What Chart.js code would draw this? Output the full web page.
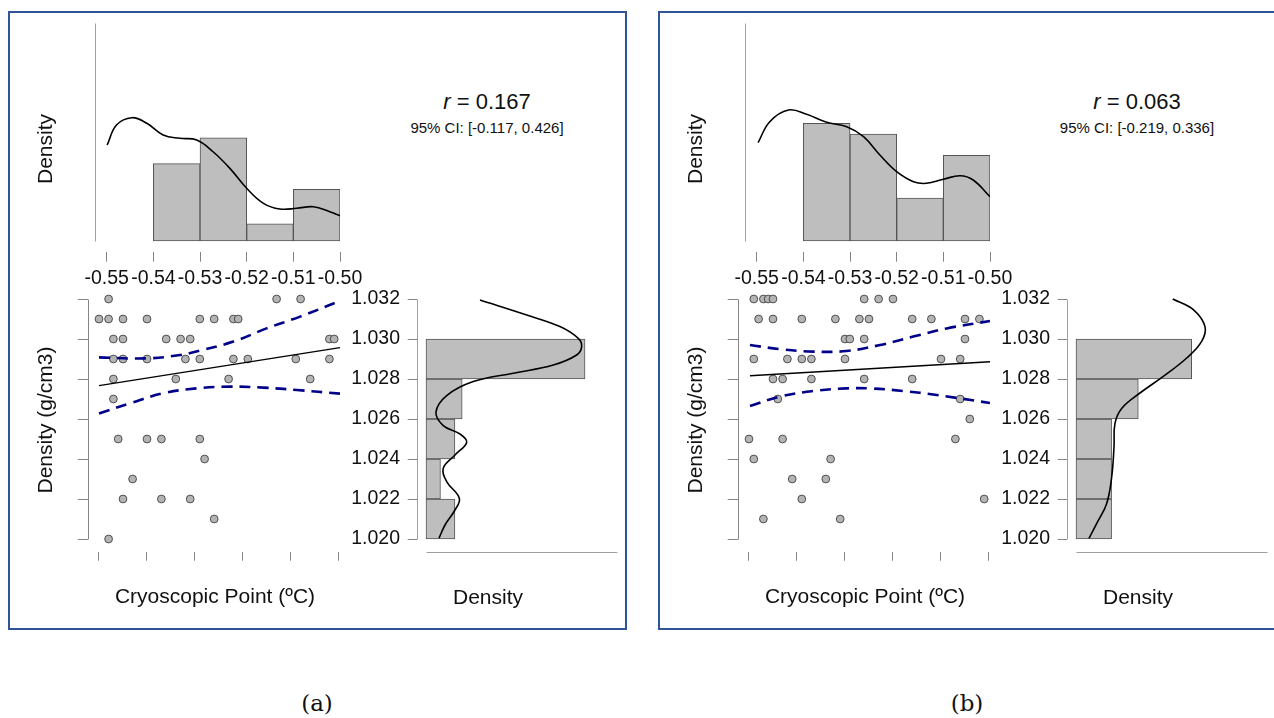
<!DOCTYPE html>
<html lang="en">
<head>
<meta charset="UTF-8">
<title>Cryoscopic point vs density</title>
<script src="https://cdn.jsdelivr.net/npm/chart.js"></script>
<style>
  body { margin: 0; width: 1274px; height: 718px; overflow: hidden; background: #fff;
         font-family: "Liberation Sans", Arial, sans-serif; color: #111; position: relative; }
  canvas { position: absolute; }
  .frame { position: absolute; top: 11px; width: 615px; height: 615px; border: 2px solid #2f5597; }
  .txt { position: absolute; white-space: nowrap; transform: translate(-50%, -50%); font-size: 21px; }
  .rot { transform: translate(-50%, -50%) rotate(-90deg); }
  .rval { font-size: 22px; }
  .ci { font-size: 15px; }
  .cap { font-family: "DejaVu Serif", serif; font-size: 23px; }
</style>
</head>
<body>
<script>
// shared axes
const xTicks = [-0.55, -0.54, -0.53, -0.52, -0.51, -0.50];
const yTicks = [1.020, 1.022, 1.024, 1.026, 1.028, 1.030, 1.032];
const xBins = [-0.545, -0.535, -0.525, -0.515, -0.505];
const yBins = [1.021, 1.023, 1.025, 1.027, 1.029, 1.031];

// ---- panel (a) ----
const cryoA = [
  -0.548, -0.513, -0.508,
  -0.550, -0.548, -0.545, -0.540, -0.529, -0.526, -0.522, -0.521,
  -0.547, -0.545, -0.536, -0.533, -0.531, -0.502, -0.501,
  -0.547, -0.545, -0.540, -0.532, -0.529, -0.522, -0.519, -0.509, -0.502,
  -0.547, -0.534, -0.523, -0.506,
  -0.547,
  -0.546, -0.540, -0.537, -0.529,
  -0.528,
  -0.543,
  -0.545, -0.537, -0.531,
  -0.526,
  -0.548
];
const densA = [
  1.032, 1.032, 1.032,
  1.031, 1.031, 1.031, 1.031, 1.031, 1.031, 1.031, 1.031,
  1.030, 1.030, 1.030, 1.030, 1.030, 1.030, 1.030,
  1.029, 1.029, 1.029, 1.029, 1.029, 1.029, 1.029, 1.029, 1.029,
  1.028, 1.028, 1.028, 1.028,
  1.027,
  1.025, 1.025, 1.025, 1.025,
  1.024,
  1.023,
  1.022, 1.022, 1.022,
  1.021,
  1.020
];
const fitXA = [-0.55, -0.4998];
const fitA = [1.02767, 1.02957];
const ciUpXA = [-0.55, -0.5401, -0.5331, -0.5290, -0.5220, -0.5151, -0.5081, -0.4998];
const ciUpA = [1.02908, 1.02903, 1.02920, 1.02942, 1.02987, 1.03053, 1.03112, 1.03190];
const ciLoXA = [-0.55, -0.5435, -0.5366, -0.5297, -0.5227, -0.5158, -0.5088, -0.4998];
const ciLoA = [1.02628, 1.02679, 1.02729, 1.02753, 1.02762, 1.02757, 1.02745, 1.02727];
const topHistA = [0, 9, 12, 2, 6];
const topCurveXA = [-0.5499, -0.5479, -0.5446, -0.5414, -0.5379, -0.5343, -0.5307, -0.5272,
                    -0.5236, -0.5200, -0.5164, -0.5129, -0.5093, -0.5057, -0.5022, -0.5000];
const topCurveA = [11.16, 13.49, 14.34, 13.69, 12.33, 11.94, 11.74, 10.38,
                   8.45, 6.13, 4.38, 3.72, 3.80, 3.99, 3.41, 2.94];
const sideHistA = [4, 2, 4, 5, 22, 0];
const sideCurveYA = [1.03195, 1.0312, 1.03062, 1.03003, 1.02962, 1.0292, 1.0287, 1.02829, 1.02787,
                     1.02717, 1.02634, 1.02567, 1.02525, 1.02484, 1.0242, 1.02354, 1.02287,
                     1.02204, 1.02145, 1.0207, 1.02004];
const sideCurveA = [7.47, 13.93, 18.53, 21.07, 21.53, 20.84, 17.61, 12.08, 6.54,
                    2.86, 1.38, 2.39, 4.70, 5.63, 4.01, 2.39, 2.86,
                    4.61, 4.01, 2.63, 1.80];

// ---- panel (b) ----
const cryoB = [
  -0.549, -0.547, -0.546, -0.545, -0.526, -0.523, -0.520,
  -0.548, -0.545, -0.539, -0.532, -0.527, -0.525, -0.516, -0.512, -0.505, -0.502,
  -0.530, -0.529, -0.526, -0.505,
  -0.549, -0.542, -0.539, -0.537, -0.530, -0.510, -0.506,
  -0.545, -0.543, -0.537, -0.526, -0.516,
  -0.544, -0.506,
  -0.504,
  -0.550, -0.543, -0.507,
  -0.549, -0.533,
  -0.541, -0.534,
  -0.539, -0.501,
  -0.547, -0.531
];
const densB = [
  1.032, 1.032, 1.032, 1.032, 1.032, 1.032, 1.032,
  1.031, 1.031, 1.031, 1.031, 1.031, 1.031, 1.031, 1.031, 1.031, 1.031,
  1.030, 1.030, 1.030, 1.030,
  1.029, 1.029, 1.029, 1.029, 1.029, 1.029, 1.029,
  1.028, 1.028, 1.028, 1.028, 1.028,
  1.027, 1.027,
  1.026,
  1.025, 1.025, 1.025,
  1.024, 1.024,
  1.023, 1.023,
  1.022, 1.022,
  1.021, 1.021
];
const fitXB = [-0.5498, -0.4998];
const fitB = [1.028165, 1.028865];
const ciUpXB = [-0.5498, -0.5435, -0.5366, -0.5297, -0.5227, -0.5158, -0.5088, -0.4998];
const ciUpB = [1.02970, 1.02949, 1.02937, 1.02940, 1.02970, 1.03012, 1.03053, 1.03090];
const ciLoXB = [-0.5498, -0.5435, -0.5366, -0.5297, -0.5248, -0.5179, -0.5109, -0.4998];
const ciLoB = [1.02665, 1.02712, 1.02740, 1.02753, 1.02753, 1.02740, 1.02720, 1.02680];
const topHistB = [0, 11, 10, 4, 8];
const topCurveXB = [-0.5497, -0.5472, -0.5432, -0.5393, -0.5350, -0.5307, -0.5271, -0.5236,
                    -0.5200, -0.5164, -0.5136, -0.5100, -0.5064, -0.5036, -0.5000];
const topCurveB = [9.19, 11.15, 12.24, 11.84, 11.09, 10.68, 9.75, 8.04,
                   6.48, 5.54, 5.39, 5.77, 6.10, 5.70, 4.14];
const sideHistB = [4, 4, 4, 7, 13, 0];
const sideCurveYB = [1.032, 1.03147, 1.03063, 1.02988, 1.02905, 1.02813, 1.0273,
                     1.02653, 1.02578, 1.0246, 1.0231, 1.02178, 1.02078, 1.02003];
const sideCurveB = [10.87, 13.18, 14.49, 14.12, 12.44, 9.81, 7.19,
                    5.13, 4.38, 4.27, 4.01, 3.45, 2.33, 1.46];

Chart.defaults.font.family = '"Liberation Sans", Arial, sans-serif';
Chart.defaults.color = '#111';

const tickGray = '#858585';
const barFill = '#bebebe';
const barEdge = '#555';

// axis lines drawn only between two data positions (detached R-style axes)
const axisLines = {
  id: 'axisLines',
  beforeDatasetsDraw(chart, args, opts) {
    const { ctx, scales } = chart;
    ctx.save();
    ctx.strokeStyle = opts.color || '#999';
    ctx.lineWidth = 1;
    (opts.lines || []).forEach(l => {
      const x1 = Math.round(scales.x.getPixelForValue(l[0][0])) + 0.5;
      const y1 = Math.round(scales.y.getPixelForValue(l[0][1])) + 0.5;
      const x2 = Math.round(scales.x.getPixelForValue(l[1][0])) + 0.5;
      const y2 = Math.round(scales.y.getPixelForValue(l[1][1])) + 0.5;
      ctx.beginPath();
      ctx.moveTo(x1, y1);
      ctx.lineTo(x2, y2);
      ctx.stroke();
    });
    ctx.restore();
  }
};

function addCanvas(left, top, w, h) {
  const c = document.createElement('canvas');
  c.width = w; c.height = h;
  c.style.left = left + 'px';
  c.style.top = top + 'px';
  document.body.appendChild(c);
  return c;
}

function addText(html, x, y, cls) {
  const d = document.createElement('div');
  d.className = 'txt ' + (cls || '');
  d.innerHTML = html;
  d.style.left = x + 'px';
  d.style.top = y + 'px';
  document.body.appendChild(d);
}

const pts = (xs, ys) => xs.map((x, i) => ({ x, y: ys[i] }));
const fixedTicks = vals => s => { s.ticks = vals.map(v => ({ value: v })); };
const baseOpts = {
  responsive: false, animation: false, events: [],
  plugins: { legend: { display: false }, tooltip: { enabled: false } }
};

const scatterX = { min: -0.552354, max: -0.49875 };
const sharedY = { min: 1.019365, max: 1.03245 };
const topX = { min: -0.552507, max: -0.50 };

function drawPanel(ox, p) {
  const frame = document.createElement('div');
  frame.className = 'frame';
  frame.style.left = (ox + 8) + 'px';
  document.body.appendChild(frame);

  // top marginal histogram
  new Chart(addCanvas(ox + 40, 15, 330, 290), {
    type: 'bar',
    data: {
      datasets: [
        { type: 'line', data: pts(p.topCurveX, p.topCurve), borderColor: '#000', borderWidth: 1.6,
          pointRadius: 0, tension: 0.4, fill: false },
        { data: xBins.map((x, i) => ({ x, y: p.topHist[i] || null })), backgroundColor: barFill,
          borderColor: barEdge, borderWidth: 1, borderSkipped: false, barPercentage: 1, categoryPercentage: 1 }
      ]
    },
    options: {
      ...baseOpts,
      layout: { padding: { left: 55, right: 30, top: 8, bottom: 0 }, autoPadding: false },
      plugins: { ...baseOpts.plugins,
        axisLines: { color: '#a0a0a0', lines: [[[topX.min, 0], [topX.min, p.topMax]]] } },
      scales: {
        x: { type: 'linear', ...topX, offset: false,
             afterBuildTicks: fixedTicks(xTicks), afterFit: s => { s.height = 53.3; },
             grid: { drawOnChartArea: false, offset: false, tickLength: 10, color: tickGray },
             border: { display: false },
             ticks: { autoSkip: false, maxRotation: 0, minRotation: 0, padding: 5,
                      font: { size: 19.5 }, color: '#111', callback: v => v.toFixed(2) } },
        y: { display: false, min: p.topMin, max: p.topMax }
      }
    },
    plugins: [axisLines]
  });

  // scatter with fit and confidence band
  new Chart(addCanvas(ox + 20, 280, 345, 305), {
    type: 'scatter',
    data: {
      datasets: [
        { type: 'line', data: pts(p.fitX, p.fit), borderColor: '#000', borderWidth: 1.4, pointRadius: 0 },
        { type: 'line', data: pts(p.ciUpX, p.ciUp), borderColor: '#00008b', borderWidth: 2.6,
          borderDash: [11, 7], pointRadius: 0, tension: 0.4 },
        { type: 'line', data: pts(p.ciLoX, p.ciLo), borderColor: '#00008b', borderWidth: 2.6,
          borderDash: [11, 7], pointRadius: 0, tension: 0.4 },
        { data: pts(p.cryo, p.dens), pointRadius: 3.9, pointBackgroundColor: '#b4b4b4',
          pointBorderColor: '#333', pointBorderWidth: 0.8 }
      ]
    },
    options: {
      ...baseOpts,
      layout: { padding: { left: 0, right: 20, top: 10, bottom: 0 }, autoPadding: false },
      plugins: { ...baseOpts.plugins,
        axisLines: { color: tickGray, lines: [[[scatterX.min, 1.020], [scatterX.min, 1.032]]] } },
      scales: {
        x: { type: 'linear', ...scatterX, afterBuildTicks: fixedTicks(xTicks),
             afterFit: s => { s.height = 33.3; },
             grid: { drawOnChartArea: false, tickLength: 9, color: tickGray },
             border: { display: false }, ticks: { display: false } },
        y: { type: 'linear', ...sharedY, afterBuildTicks: fixedTicks(yTicks),
             afterFit: s => { s.width = 67.7; },
             grid: { drawOnChartArea: false, tickLength: 10, color: tickGray },
             border: { display: false }, ticks: { display: false } }
      }
    },
    plugins: [axisLines]
  });

  // right marginal histogram
  new Chart(addCanvas(ox + 340, 268, 300, 317), {
    type: 'bar',
    data: {
      datasets: [
        { type: 'line', data: p.sideCurveY.map((y, i) => ({ x: p.sideCurve[i], y })), borderColor: '#000',
          borderWidth: 1.6, pointRadius: 0, tension: 0.4, fill: false },
        { data: yBins.map((y, i) => ({ x: p.sideHist[i] || null, y })), backgroundColor: barFill,
          borderColor: barEdge, borderWidth: 1, borderSkipped: false, barPercentage: 1, categoryPercentage: 1 }
      ]
    },
    options: {
      ...baseOpts,
      indexAxis: 'y',
      layout: { padding: { left: 0, right: 23.3, top: 22, bottom: 33.3 }, autoPadding: false },
      plugins: { ...baseOpts.plugins,
        axisLines: { color: '#a0a0a0', lines: [
          [[p.sideMin, 1.020], [p.sideMin, 1.032]],
          [[0, sharedY.min], [p.sideMax, sharedY.min]]
        ] } },
      scales: {
        x: { type: 'linear', display: false, min: p.sideMin, max: p.sideMax },
        y: { type: 'linear', ...sharedY, offset: false,
             afterBuildTicks: fixedTicks(yTicks), afterFit: s => { s.width = 76.7; },
             grid: { drawOnChartArea: false, offset: false, tickLength: 9, color: tickGray },
             border: { display: false },
             ticks: { autoSkip: false, padding: 7.7, font: { size: 19.5 }, color: '#111',
                      callback: v => v.toFixed(3) } }
      }
    },
    plugins: [axisLines]
  });

  addText('Density', ox + 45, 149, 'rot');
  addText('Density (g/cm3)', ox + 45, 420, 'rot');
  addText('Cryoscopic Point (ºC)', ox + 215, 596);
  addText('Density', ox + 488, 597);
  addText('<i>r</i> = ' + p.r, ox + 487, 102, 'rval');
  addText('95% CI: [' + p.ci[0] + ', ' + p.ci[1] + ']', ox + 487, 127, 'ci');
  addText(p.caption, ox + 317, 703, 'cap');
}

drawPanel(0, {
  cryo: cryoA, dens: densA, fitX: fitXA, fit: fitA,
  ciUpX: ciUpXA, ciUp: ciUpA, ciLoX: ciLoXA, ciLo: ciLoA,
  topHist: topHistA, topCurveX: topCurveXA, topCurve: topCurveA, topMin: -1.244, topMax: 25.35,
  sideHist: sideHistA, sideCurveY: sideCurveYA, sideCurve: sideCurveA, sideMin: -1.286, sideMax: 26.38,
  r: '0.167', ci: ['-0.117', '0.426'], caption: '(a)'
});

drawPanel(650, {
  cryo: cryoB, dens: densB, fitX: fitXB, fit: fitB,
  ciUpX: ciUpXB, ciUp: ciUpB, ciLoX: ciLoXB, ciLo: ciLoB,
  topHist: topHistB, topCurveX: topCurveXB, topCurve: topCurveB, topMin: -1.0, topMax: 20.37,
  sideHist: sideHistB, sideCurveY: sideCurveYB, sideCurve: sideCurveB, sideMin: -1.045, sideMax: 21.43,
  r: '0.063', ci: ['-0.219', '0.336'], caption: '(b)'
});
</script>
</body>
</html>
